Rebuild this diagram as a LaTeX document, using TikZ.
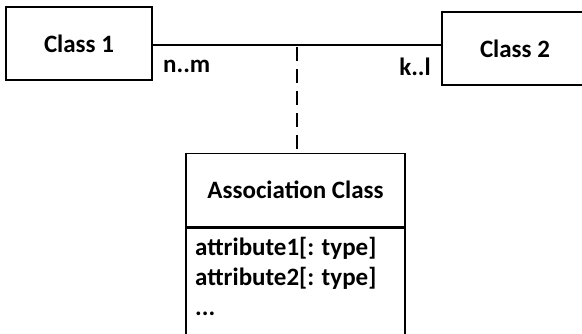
\documentclass[tikz,border=0pt]{standalone}
\usepackage{fontspec}
\setmainfont{Carlito}
\usetikzlibrary{positioning}
\newcommand{\clsw}{146pt}
\newcommand{\clsh}{73pt}
\tikzset{
    txtsty/.style={font=\fontsize{25}{30}\selectfont\bfseries, inner sep=0pt},
    clssty/.style={draw, line width=1.6pt, rectangle, minimum width=\clsw, minimum height=\clsh, txtsty},
    attsty/.style={draw, line width=1.6pt, rectangle, minimum width=219pt, minimum height=114pt, anchor=north},
    linesty/.style={line width=1.6pt},
    dashsty/.style={line width=1.6pt, dash pattern=on 14pt off 8pt, dash phase=-2pt},
    multsty/.style={txtsty},
}
\begin{document}
\begin{tikzpicture}[x=1pt,y=1pt]
\useasboundingbox (0,0) rectangle (582,333);
% the two classes
\node[clssty] (C1) at (79,289.5) {Class 1};
\node[clssty] (C2) at (515,284.5) {Class 2};
\coordinate (J) at (297,288);
\draw[linesty] (C1.east |- J) -- (C2.west |- J);
\node[multsty, anchor=base west] (M1) at (163,261) {n..m};
\node[multsty, anchor=base east] (M2) at (431,258) {k..l};
% association class
\node[clssty, minimum width=219pt] (AC) at (295.5,143) {Association Class};
\node[attsty] (AA) at (AC.south) {};
\node[txtsty, anchor=base west] (A1) at (195,78) {attribute1[: type]};
\node[txtsty, anchor=base west] (A2) at (195,48) {attribute2[: type]};
\node[txtsty, anchor=base west] (A3) at (195,18) {...};
\draw[dashsty] (J) -- (J |- AC.north);
\end{tikzpicture}
\end{document}
